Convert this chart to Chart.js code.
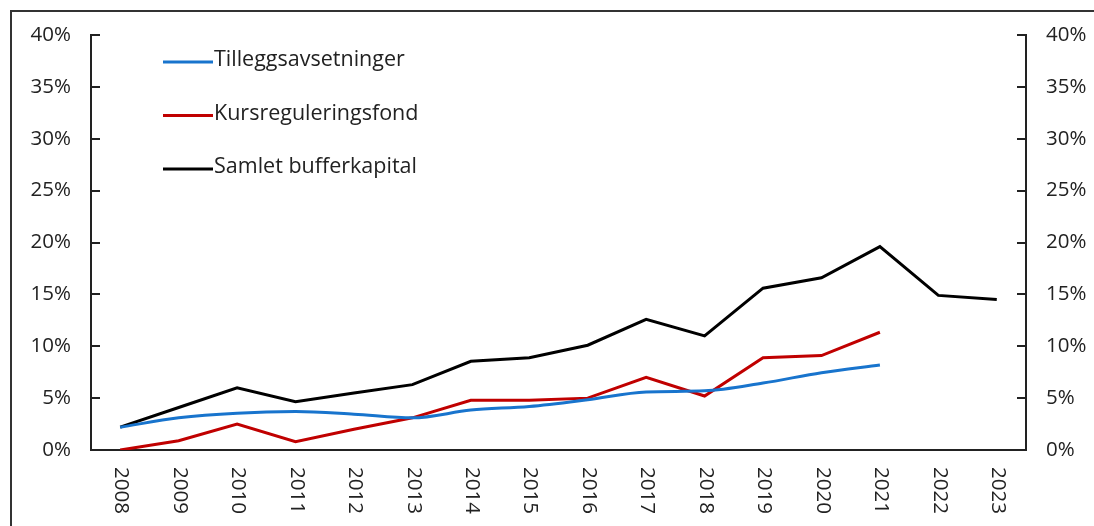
<!DOCTYPE html>
<html>
<head>
<meta charset="utf-8">
<script src="https://cdn.jsdelivr.net/npm/chart.js@4.4.1/dist/chart.umd.min.js"></script>
<style>
    html, body { margin: 0; padding: 0; background: #fff; }
    #wrap { position: relative; width: 1094px; height: 526px; overflow: hidden; }
    #frame { position: absolute; left: 10px; top: 10px; width: 1200px; height: 600px; border: 2px solid #333; box-sizing: border-box; }
    canvas { position: absolute; left: 0; top: 0; }
</style>
</head>
<body>
<div id="wrap">
    <div id="frame"></div>
    <canvas id="chart" width="1094" height="526"></canvas>
</div>
<script>
// Data (percent)
const years = ["2008", "2009", "2010", "2011", "2012", "2013", "2014", "2015",
               "2016", "2017", "2018", "2019", "2020", "2021", "2022", "2023"];
const tilleggsavsetninger = [2.2, 3.1, 3.55, 3.7, 3.45, 3.1, 3.85, 4.2, 4.85, 5.6, 5.7, 6.45, 7.45, 8.2, null, null];
const kursreguleringsfond = [0.0, 0.9, 2.5, 0.8, 2.0, 3.1, 4.8, 4.8, 5.0, 7.0, 5.2, 8.9, 9.1, 11.35, null, null];
const samletBufferkapital = [2.2, 4.1, 6.0, 4.65, 5.5, 6.3, 8.55, 8.9, 10.1, 12.6, 11.0, 15.6, 16.6, 19.6, 14.9, 14.5];
const yMin = 0, yMax = 40, yStep = 5;

const FONT = "'Open Sans', 'Noto Sans', sans-serif";
const TEXT = "#222";

// inward tick marks on both y axes
const innerTicks = {
    id: "innerTicks",
    afterDraw(chart) {
        const ctx = chart.ctx;
        const area = chart.chartArea;
        ctx.save();
        ctx.strokeStyle = "#222";
        ctx.lineWidth = 2;
        ["y", "y2"].forEach(id => {
            const s = chart.scales[id];
            s.ticks.forEach(t => {
                const y = Math.round(s.getPixelForValue(t.value));
                ctx.beginPath();
                if (id === "y") { ctx.moveTo(area.left, y); ctx.lineTo(area.left + 9, y); }
                else { ctx.moveTo(area.right, y); ctx.lineTo(area.right - 9, y); }
                ctx.stroke();
            });
        });
        ctx.restore();
    }
};

// x labels rotated clockwise (read top to bottom)
const xLabels = {
    id: "xLabels",
    afterDraw(chart) {
        const ctx = chart.ctx;
        const s = chart.scales.x;
        ctx.save();
        ctx.fillStyle = TEXT;
        ctx.font = "20.5px " + FONT;
        ctx.textAlign = "left";
        ctx.textBaseline = "middle";
        years.forEach((lab, i) => {
            const x = s.getPixelForValue(i);
            ctx.save();
            ctx.translate(x + 1, chart.chartArea.bottom + 17);
            ctx.rotate(Math.PI / 2);
            ctx.fillText(lab, 0, 0);
            ctx.restore();
        });
        ctx.restore();
    }
};

// legend inside the plot, top left
const innerLegend = {
    id: "innerLegend",
    afterDraw(chart) {
        const ctx = chart.ctx;
        const area = chart.chartArea;
        ctx.save();
        ctx.font = "21.5px " + FONT;
        ctx.textBaseline = "middle";
        ctx.textAlign = "left";
        chart.data.datasets.forEach((ds, i) => {
            const y = area.top + 27 + i * 53.5;
            const x0 = area.left + 72;
            ctx.strokeStyle = ds.borderColor;
            ctx.lineWidth = 3;
            ctx.beginPath();
            ctx.moveTo(x0, y);
            ctx.lineTo(x0 + 50, y);
            ctx.stroke();
            ctx.fillStyle = TEXT;
            ctx.fillText(ds.label, x0 + 51, y - 2);
        });
        ctx.restore();
    }
};

const yAxis = (pos) => ({
    position: pos,
    min: yMin,
    max: yMax,
    grid: { display: false, drawTicks: false },
    border: { display: true, color: "#222", width: 2 },
    ticks: {
        stepSize: yStep,
        padding: 20,
        color: TEXT,
        font: { family: FONT, size: 20.5 },
        callback: v => v + "%"
    },
    afterFit: s => { s.width = pos === "left" ? 91 : 68; }
});

new Chart(document.getElementById("chart").getContext("2d"), {
    type: "line",
    data: {
        labels: years,
        datasets: [
            {
                label: "Tilleggsavsetninger",
                data: tilleggsavsetninger,
                borderColor: "#1874CD",
                borderWidth: 3,
                tension: 0.4,
                cubicInterpolationMode: "monotone",
                pointRadius: 0,
                yAxisID: "y"
            },
            {
                label: "Kursreguleringsfond",
                data: kursreguleringsfond,
                borderColor: "#C00000",
                borderWidth: 3,
                tension: 0,
                pointRadius: 0,
                yAxisID: "y"
            },
            {
                label: "Samlet bufferkapital",
                data: samletBufferkapital,
                borderColor: "#000000",
                borderWidth: 3,
                tension: 0,
                pointRadius: 0,
                yAxisID: "y"
            }
        ]
    },
    options: {
        responsive: false,
        animation: false,
        layout: { padding: { top: 35, left: 0, right: 0, bottom: 0 } },
        plugins: {
            legend: { display: false },
            tooltip: { enabled: false }
        },
        scales: {
            x: {
                offset: true,
                grid: { display: false, drawTicks: false },
                border: { display: true, color: "#222", width: 2 },
                ticks: { display: false },
                afterFit: s => { s.height = 76; }
            },
            y: yAxis("left"),
            y2: yAxis("right")
        }
    },
    plugins: [innerTicks, xLabels, innerLegend]
});
</script>
</body>
</html>
